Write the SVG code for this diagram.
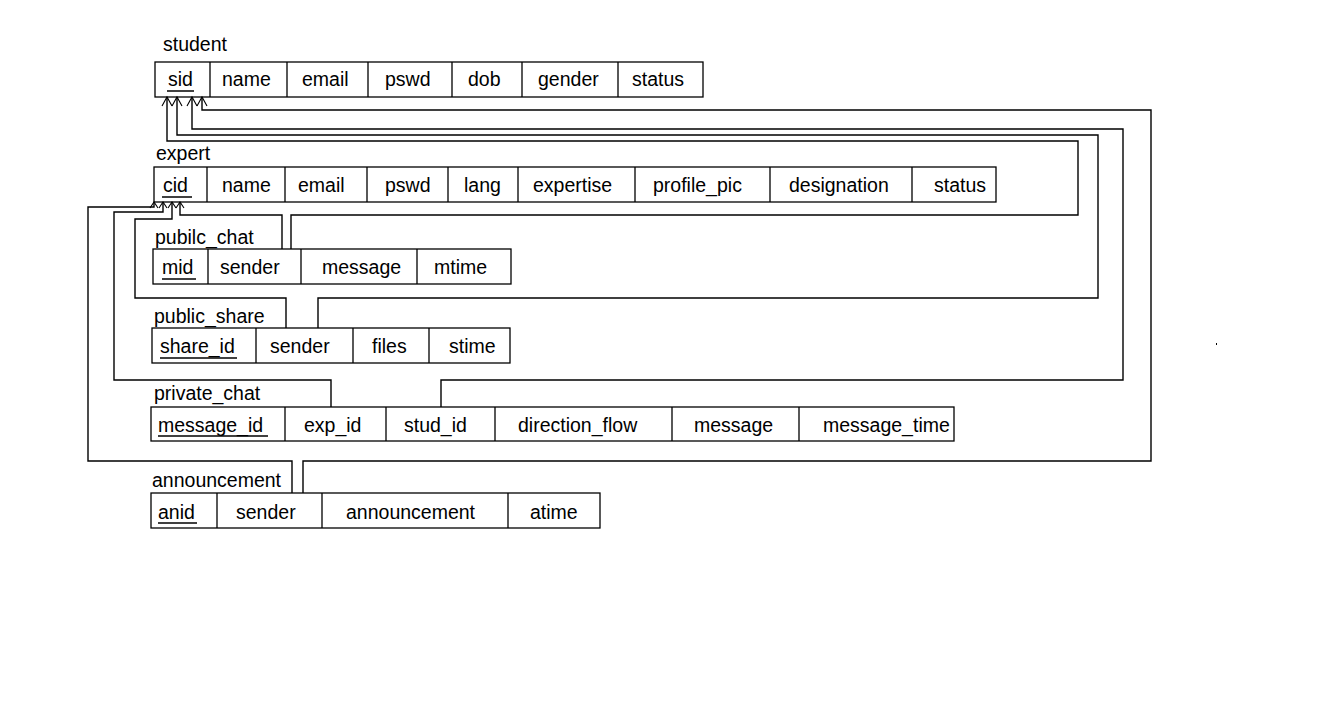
<svg xmlns="http://www.w3.org/2000/svg" width="1338" height="712" viewBox="0 0 1338 712">
<style>
text{font-family:"Liberation Sans",Arial,sans-serif;font-size:19.5px;fill:#000}
.cell{fill:none;stroke:#000;stroke-width:1.3}
.ul{stroke:#000;stroke-width:1.5}
.conn{fill:none;stroke:#000;stroke-width:1.4}
</style>
<defs>
<marker id="a1" markerUnits="userSpaceOnUse" orient="auto" overflow="visible" refX="0" refY="0" markerWidth="10" markerHeight="10">
<path d="M-9,-5 L0,0 L-9,5" fill="none" stroke="#000" stroke-width="1.1"/>
</marker>
<marker id="a2" markerUnits="userSpaceOnUse" orient="auto" overflow="visible" refX="0" refY="0" markerWidth="10" markerHeight="10">
<path d="M-6,-4 L0,0 L-6,4" fill="none" stroke="#000" stroke-width="1.1"/>
</marker>
</defs>
<rect width="1338" height="712" fill="#fff"/>

<g id="connectors">
<path class="conn" d="M303,493 V461 H1151 V110 H202 V97" marker-end="url(#a1)"/>
<path class="conn" d="M441,407 V380 H1123 V129 H192 V97" marker-end="url(#a1)"/>
<path class="conn" d="M318,328 V298 H1098 V135 H177 V97" marker-end="url(#a1)"/>
<path class="conn" d="M291,249 V215 H1078 V141 H167 V97" marker-end="url(#a1)"/>
<path class="conn" d="M282,249 V215 H180 V202" marker-end="url(#a2)"/>
<path class="conn" d="M286,328 V298 H135 V219 H172 V202" marker-end="url(#a2)"/>
<path class="conn" d="M331,407 V380 H114 V212 H163 V202" marker-end="url(#a2)"/>
<path class="conn" d="M292,493 V461 H88 V207 H154 V202" marker-end="url(#a2)"/>
</g>

<g id="student">
<text x="163" y="51">student</text>
<rect class="cell" x="155" y="62" width="548" height="35"/>
<path class="cell" d="M210,62V97M287,62V97M368,62V97M452,62V97M522,62V97M618,62V97"/>
<text x="168" y="86">sid</text>
<line class="ul" x1="167" y1="91" x2="194" y2="91"/>
<text x="222" y="86">name</text>
<text x="302" y="86">email</text>
<text x="385" y="86">pswd</text>
<text x="468" y="86">dob</text>
<text x="538" y="86">gender</text>
<text x="632" y="86">status</text>
</g>

<g id="expert">
<text x="156" y="160">expert</text>
<rect class="cell" x="154" y="167" width="842" height="35"/>
<path class="cell" d="M207,167V202M285,167V202M367,167V202M448,167V202M518,167V202M635,167V202M770,167V202M912,167V202"/>
<text x="163" y="192">cid</text>
<line class="ul" x1="162" y1="197" x2="192" y2="197"/>
<text x="222" y="192">name</text>
<text x="298" y="192">email</text>
<text x="385" y="192">pswd</text>
<text x="464" y="192">lang</text>
<text x="533" y="192">expertise</text>
<text x="653" y="192">profile_pic</text>
<text x="789" y="192">designation</text>
<text x="934" y="192">status</text>
</g>

<g id="pubilc_chat">
<text x="155" y="244">pubilc_chat</text>
<rect class="cell" x="153" y="249" width="358" height="35"/>
<path class="cell" d="M208,249V284M301,249V284M417,249V284"/>
<text x="162" y="274">mid</text>
<line class="ul" x1="162" y1="279" x2="196" y2="279"/>
<text x="220" y="274">sender</text>
<text x="322" y="274">message</text>
<text x="434" y="274">mtime</text>
</g>

<g id="public_share">
<text x="154" y="323">public_share</text>
<rect class="cell" x="152" y="328" width="358" height="35"/>
<path class="cell" d="M256,328V363M353,328V363M429,328V363"/>
<text x="160" y="353">share_id</text>
<line class="ul" x1="160" y1="358" x2="237" y2="358"/>
<text x="270" y="353">sender</text>
<text x="372" y="353">files</text>
<text x="449" y="353">stime</text>
</g>

<g id="private_chat">
<text x="154" y="400">private_chat</text>
<rect class="cell" x="151" y="407" width="803" height="34"/>
<path class="cell" d="M285,407V441M386,407V441M495,407V441M672,407V441M799,407V441"/>
<text x="158" y="432">message_id</text>
<line class="ul" x1="158" y1="436" x2="268" y2="436"/>
<text x="304" y="432">exp_id</text>
<text x="404" y="432">stud_id</text>
<text x="518" y="432">direction_flow</text>
<text x="694" y="432">message</text>
<text x="823" y="432">message_time</text>
</g>

<g id="announcement">
<text x="152" y="487">announcement</text>
<rect class="cell" x="151" y="493" width="449" height="35"/>
<path class="cell" d="M217,493V528M322,493V528M508,493V528"/>
<text x="158" y="519">anid</text>
<line class="ul" x1="158" y1="523" x2="197" y2="523"/>
<text x="236" y="519">sender</text>
<text x="346" y="519">announcement</text>
<text x="530" y="519">atime</text>
</g>

<rect x="1216" y="343" width="1" height="2" fill="#000"/>
</svg>
